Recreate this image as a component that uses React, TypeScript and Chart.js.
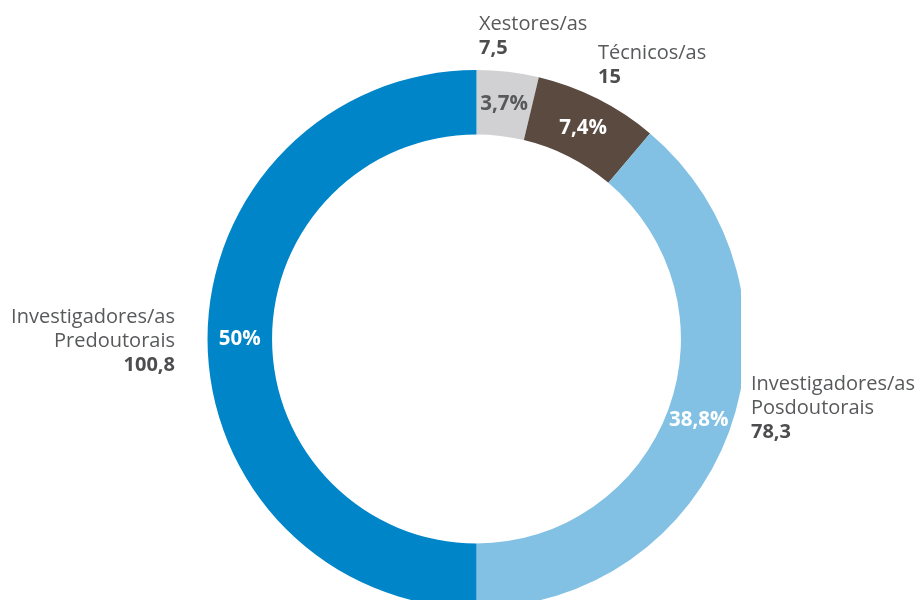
import React, { useEffect, useRef } from "react";
import { Chart, registerables } from "chart.js";

Chart.register(...registerables);

const categories = [
  ["Xestores/as"],
  ["Técnicos/as"],
  ["Investigadores/as", "Posdoutorais"],
  ["Investigadores/as", "Predoutorais"],
];
const values = [7.5, 15, 78.3, 100.8];
const valueLabels = ["7,5", "15", "78,3", "100,8"];
const percentLabels = ["3,7%", "7,4%", "38,8%", "50%"];
const colors = ["#d1d1d3", "#5a4a40", "#82c1e4", "#0085c9"];
const percentColors = ["#58595b", "#ffffff", "#ffffff", "#ffffff"];

const FONT = "'Open Sans', 'Noto Sans', sans-serif";

export default function App() {
  const ref = useRef<HTMLCanvasElement>(null);

  useEffect(() => {
    document.body.style.margin = "0";
    const canvas = ref.current!;

    const clipPlugin = {
      id: "clipRight",
      beforeDatasetsDraw(chart: any) {
        const ctx = chart.ctx;
        ctx.save();
        ctx.beginPath();
        ctx.rect(0, 0, 741, chart.height);
        ctx.clip();
      },
      afterDatasetsDraw(chart: any) {
        chart.ctx.restore();
      },
    };

    // anchors for outer labels: [x, baselineY, align]
    const anchors: [number, number, CanvasTextAlign][] = [
      [479, 30, "left"],
      [598, 59, "left"],
      [751, 390, "left"],
      [175, 323, "right"],
    ];

    const labelPlugin = {
      id: "labels",
      afterDraw(chart: any) {
        const ctx = chart.ctx;
        const meta = chart.getDatasetMeta(0);
        ctx.save();
        meta.data.forEach((arc: any, i: number) => {
          const p = arc.getCenterPoint();
          ctx.font = `bold 20.5px ${FONT}`;
          ctx.fillStyle = percentColors[i];
          ctx.textAlign = "center";
          ctx.textBaseline = "middle";
          ctx.fillText(percentLabels[i], p.x, p.y);
        });
        categories.forEach((lines, i) => {
          const [x, y, align] = anchors[i];
          ctx.textAlign = align;
          ctx.textBaseline = "alphabetic";
          ctx.font = `20px ${FONT}`;
          ctx.fillStyle = "#58595b";
          lines.forEach((ln, j) => ctx.fillText(ln, x, y + j * 24));
          ctx.font = `bold 20px ${FONT}`;
          ctx.fillStyle = "#4d4d4f";
          ctx.fillText(valueLabels[i], x, y + lines.length * 24);
        });
        ctx.restore();
      },
    };

    const chart = new Chart(canvas, {
      type: "doughnut",
      data: {
        labels: categories.map((c) => c.join(" ")),
        datasets: [
          {
            data: values,
            backgroundColor: colors,
            borderWidth: 0,
          },
        ],
      },
      options: {
        animation: false,
        responsive: false,
        maintainAspectRatio: false,
        cutout: "76%",
        layout: { padding: { left: 207, right: 171, top: 70, bottom: 12 } },
        plugins: {
          legend: { display: false },
          tooltip: { enabled: false },
        },
      },
      plugins: [clipPlugin, labelPlugin],
    });
    return () => chart.destroy();
  }, []);

  return (
    <div style={{ width: 917, height: 600, overflow: "hidden", position: "relative", background: "#fff" }}>
      <canvas ref={ref} width={917} height={620} style={{ display: "block", width: 917, height: 620 }} />
    </div>
  );
}
